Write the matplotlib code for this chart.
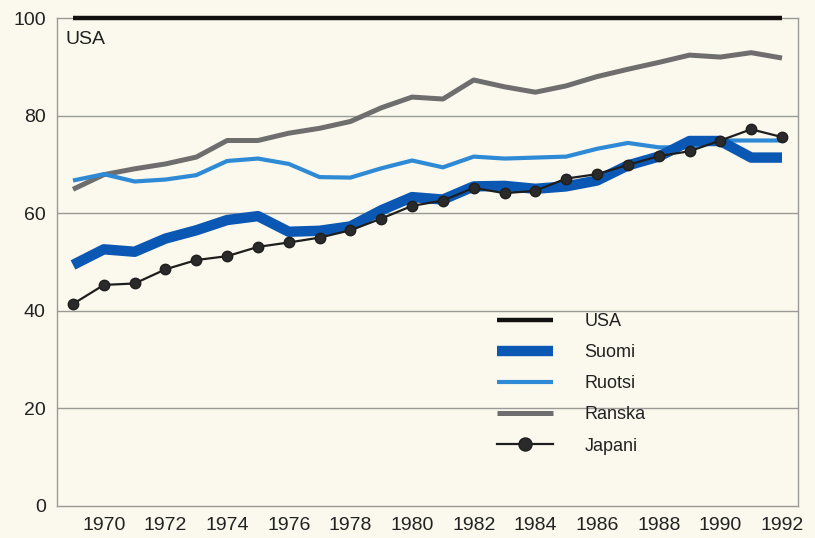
import matplotlib
matplotlib.use("Agg")
import matplotlib.pyplot as plt

years = list(range(1969, 1993))
usa = [100] * len(years)
suomi = [49.4, 52.6, 52.1, 54.8, 56.5, 58.6, 59.4, 56.2, 56.4, 57.3, 60.6, 63.3,
         62.8, 65.5, 65.6, 65.0, 65.5, 66.7, 69.8, 71.6, 74.8, 74.8, 71.4, 71.4]
ruotsi = [66.7, 68.0, 66.5, 66.9, 67.8, 70.7, 71.2, 70.1, 67.4, 67.3, 69.2, 70.8,
          69.4, 71.6, 71.2, 71.4, 71.6, 73.2, 74.4, 73.5, 73.5, 74.9, 74.9, 74.9]
ranska = [64.9, 67.9, 69.1, 70.1, 71.5, 74.9, 74.9, 76.4, 77.4, 78.8, 81.6, 83.8,
          83.4, 87.3, 85.9, 84.8, 86.1, 88.0, 89.5, 90.9, 92.4, 92.0, 92.9, 91.8]
japani = [41.4, 45.3, 45.6, 48.5, 50.4, 51.2, 53.1, 54.0, 55.0, 56.5, 58.9, 61.5,
          62.6, 65.2, 64.1, 64.6, 67.1, 68.0, 69.9, 71.7, 72.7, 74.9, 77.2, 75.6]
xticks = list(range(1970, 1993, 2))
yticks = [0, 20, 40, 60, 80, 100]

plt.rcParams['font.family'] = ['Liberation Sans', 'DejaVu Sans']
bg = '#fbf9ee'
txt = '#222222'
grid_c = '#9a9a96'

fig = plt.figure(figsize=(8.15, 5.38), dpi=100, facecolor=bg)
ax = fig.add_axes([0.0699, 0.0595, 0.9788 - 0.0699, 0.9665 - 0.0595], facecolor=bg)

for y in [20, 40, 60, 80]:
    ax.axhline(y, color=grid_c, lw=1.0, zorder=1)

ax.plot(years, ranska, color='#6e6e6e', lw=3.6, label='Ranska', zorder=3, solid_capstyle='butt')
ax.plot(years, ruotsi, color='#2f8ad6', lw=3.0, label='Ruotsi', zorder=3, solid_capstyle='butt')
ax.plot(years, suomi, color='#0a58b4', lw=7.5, label='Suomi', zorder=4, solid_capstyle='butt')
ax.plot(years, japani, color='#1e1e1e', lw=1.6, marker='o', markersize=7.5,
        markerfacecolor='#2a2a2a', markeredgecolor='#1e1e1e', label='Japani', zorder=5)
ax.plot(years, usa, color='#111111', lw=3.2, label='USA', zorder=6, clip_on=False,
        solid_capstyle='butt')

ax.set_xlim(1968.48, 1992.51)
ax.set_ylim(0, 100)
ax.set_xticks(xticks)
ax.set_yticks(yticks)
ax.tick_params(length=0, labelsize=14, colors=txt, pad=8)
for s in ax.spines.values():
    s.set_color(grid_c)
    s.set_linewidth(1.0)

ax.text(0.012, 0.955, 'USA', transform=ax.transAxes, fontsize=14, color=txt,
        va='center', ha='left')

handles, labels = ax.get_legend_handles_labels()
order = ['USA', 'Suomi', 'Ruotsi', 'Ranska', 'Japani']
hmap = dict(zip(labels, handles))
leg = ax.legend([hmap[k] for k in order], order, loc='upper left',
                bbox_to_anchor=(0.594, 0.395), frameon=False, fontsize=13,
                handlelength=3.1, handletextpad=1.75, labelspacing=0.78,
                borderaxespad=0, borderpad=0, markerscale=1.25)
for t in leg.get_texts():
    t.set_color(txt)

fig.savefig('out.png', dpi=100, facecolor=bg)
